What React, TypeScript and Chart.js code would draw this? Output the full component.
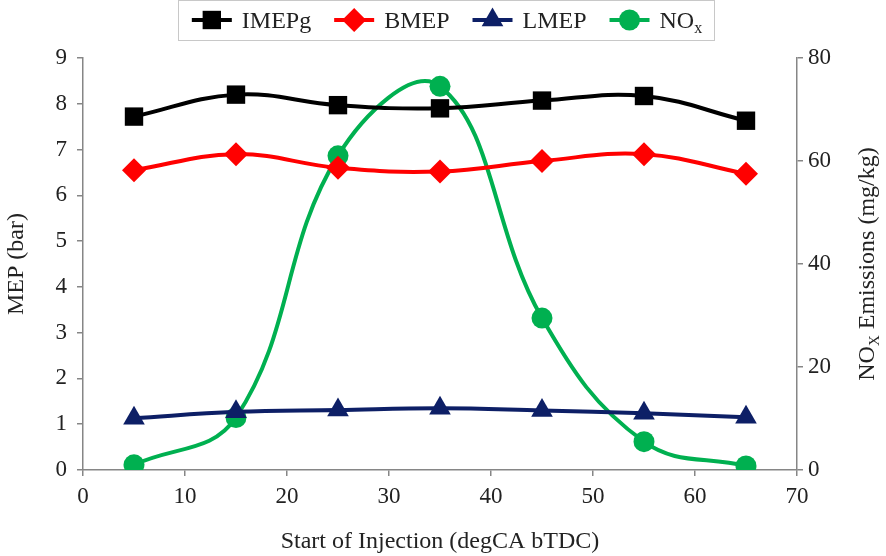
import React, { useEffect, useRef } from 'react';
import { Chart, registerables } from 'chart.js';

Chart.register(...registerables);

// ---- data ----
const injection = [5, 15, 25, 35, 45, 55, 65];
const imepg = [7.72, 8.2, 7.97, 7.9, 8.07, 8.17, 7.63];
const bmep = [6.55, 6.9, 6.6, 6.52, 6.75, 6.9, 6.47];
const lmep = [1.13, 1.27, 1.31, 1.35, 1.3, 1.24, 1.15];
const nox = [1.0, 10.2, 61.0, 74.5, 29.5, 5.5, 0.8];

const xTicks = [0, 10, 20, 30, 40, 50, 60, 70];
const mepTicks = [0, 1, 2, 3, 4, 5, 6, 7, 8, 9];
const noxTicks = [0, 20, 40, 60, 80];

const seriesLabels = ['IMEPg', 'BMEP', 'LMEP', 'NO'];
const seriesSubs = ['', '', '', 'x'];

const FONT = "'Liberation Serif', 'Times New Roman', serif";
const TEXT = '#222222';
const AXIS = '#868686';

function drawMarker(ctx: CanvasRenderingContext2D, style: string, r: number, x: number, y: number, color: string) {
  ctx.save();
  ctx.fillStyle = color;
  ctx.beginPath();
  if (style === 'rect') {
    const s = Math.SQRT1_2 * r;
    ctx.rect(x - s, y - s, 2 * s, 2 * s);
  } else if (style === 'rectRot') {
    ctx.moveTo(x, y - r);
    ctx.lineTo(x + r, y);
    ctx.lineTo(x, y + r);
    ctx.lineTo(x - r, y);
    ctx.closePath();
  } else if (style === 'triangle') {
    for (let i = 0; i < 3; i++) {
      const a = -Math.PI / 2 + (i * 2 * Math.PI) / 3;
      const px = x + Math.cos(a) * r;
      const py = y + Math.sin(a) * r;
      if (i === 0) ctx.moveTo(px, py);
      else ctx.lineTo(px, py);
    }
    ctx.closePath();
  } else {
    ctx.arc(x, y, r, 0, Math.PI * 2);
  }
  ctx.fill();
  ctx.restore();
}

const customLegend = {
  id: 'customLegend',
  afterDraw(chart: any) {
    const ctx: CanvasRenderingContext2D = chart.ctx;
    const ds = chart.data.datasets;
    const fontSize = 24;
    const subSize = 16;
    const lineLen = 40;
    const gapText = 10;
    const gapItem = 23;
    const padL = 14;
    const padR = 12;
    ctx.save();
    const widths: number[] = [];
    for (let i = 0; i < ds.length; i++) {
      ctx.font = `${fontSize}px ${FONT}`;
      let w = ctx.measureText(seriesLabels[i]).width;
      if (seriesSubs[i]) {
        ctx.font = `${subSize}px ${FONT}`;
        w += ctx.measureText(seriesSubs[i]).width;
      }
      widths.push(w);
    }
    let total = 0;
    widths.forEach((w, i) => {
      total += lineLen + gapText + w + (i < widths.length - 1 ? gapItem : 0);
    });
    const boxW = total + padL + padR;
    const cx = 446;
    const boxL = cx - boxW / 2;
    const boxT = 0.5;
    const boxH = 40;
    const cy = 20;
    ctx.strokeStyle = '#c8c8c8';
    ctx.lineWidth = 1;
    ctx.strokeRect(Math.round(boxL) + 0.5, boxT, Math.round(boxW), boxH);
    let x = boxL + padL;
    for (let i = 0; i < ds.length; i++) {
      const d = ds[i];
      ctx.strokeStyle = d.borderColor;
      ctx.lineWidth = 4;
      ctx.beginPath();
      ctx.moveTo(x, cy);
      ctx.lineTo(x + lineLen, cy);
      ctx.stroke();
      drawMarker(ctx, d.pointStyle, d.pointRadius, x + lineLen / 2, cy, d.pointBackgroundColor);
      x += lineLen + gapText;
      ctx.fillStyle = TEXT;
      ctx.textBaseline = 'alphabetic';
      ctx.textAlign = 'left';
      ctx.font = `${fontSize}px ${FONT}`;
      ctx.fillText(seriesLabels[i], x, cy + 8);
      let w = ctx.measureText(seriesLabels[i]).width;
      if (seriesSubs[i]) {
        ctx.font = `${subSize}px ${FONT}`;
        ctx.fillText(seriesSubs[i], x + w, cy + 13);
        w += ctx.measureText(seriesSubs[i]).width;
      }
      x += w + gapItem;
    }
    ctx.restore();
  },
};

const rightTitle = {
  id: 'rightTitle',
  afterDraw(chart: any) {
    const ctx: CanvasRenderingContext2D = chart.ctx;
    const area = chart.chartArea;
    const parts = [
      { t: 'NO', size: 24, dy: 0 },
      { t: 'X', size: 15, dy: 5 },
      { t: ' Emissions (mg/kg)', size: 24, dy: 0 },
    ];
    ctx.save();
    let total = 0;
    parts.forEach((p) => {
      ctx.font = `${p.size}px ${FONT}`;
      total += ctx.measureText(p.t).width;
    });
    ctx.translate(chart.width - 20, (area.top + area.bottom) / 2);
    ctx.rotate(-Math.PI / 2);
    ctx.fillStyle = TEXT;
    ctx.textBaseline = 'alphabetic';
    ctx.textAlign = 'left';
    let x = -total / 2;
    parts.forEach((p) => {
      ctx.font = `${p.size}px ${FONT}`;
      ctx.fillText(p.t, x, 8 + p.dy);
      x += ctx.measureText(p.t).width;
    });
    ctx.restore();
  },
};

function toPoints(vals: number[]) {
  return injection.map((x, i) => ({ x, y: vals[i] }));
}

export default function App() {
  const ref = useRef<HTMLCanvasElement | null>(null);
  useEffect(() => {
    document.body.style.margin = '0';
    const canvas = ref.current;
    if (!canvas) return;
    const tickFont = { family: FONT, size: 23 };
    const grid = {
      drawOnChartArea: false,
      drawTicks: true,
      tickLength: 6,
      color: AXIS,
      lineWidth: 1.5,
    };
    const border = { color: AXIS, width: 1.5 };
    const chart = new Chart(canvas, {
      type: 'line',
      data: {
        datasets: [
          {
            label: 'IMEPg',
            data: toPoints(imepg),
            yAxisID: 'y',
            borderColor: '#000000',
            backgroundColor: '#000000',
            pointBackgroundColor: '#000000',
            pointBorderWidth: 0,
            borderWidth: 4,
            pointStyle: 'rect',
            pointRadius: 13,
            tension: 0.4,
          },
          {
            label: 'BMEP',
            data: toPoints(bmep),
            yAxisID: 'y',
            borderColor: '#ff0000',
            backgroundColor: '#ff0000',
            pointBackgroundColor: '#ff0000',
            pointBorderWidth: 0,
            borderWidth: 4,
            pointStyle: 'rectRot',
            pointRadius: 12,
            tension: 0.4,
          },
          {
            label: 'LMEP',
            data: toPoints(lmep),
            yAxisID: 'y',
            borderColor: '#0d1f66',
            backgroundColor: '#0d1f66',
            pointBackgroundColor: '#0d1f66',
            pointBorderWidth: 0,
            borderWidth: 4,
            pointStyle: 'triangle',
            pointRadius: 12.5,
            tension: 0.4,
          },
          {
            label: 'NOx',
            data: toPoints(nox),
            yAxisID: 'y1',
            borderColor: '#00b050',
            backgroundColor: '#00b050',
            pointBackgroundColor: '#00b050',
            pointBorderWidth: 0,
            borderWidth: 4,
            pointStyle: 'circle',
            pointRadius: 10.5,
            tension: 0.4,
          },
        ],
      },
      options: {
        responsive: false,
        animation: false,
        layout: { padding: { top: 58, left: 0, right: 0, bottom: 0 } },
        plugins: {
          legend: { display: false },
          tooltip: { enabled: false },
        },
        scales: {
          x: {
            type: 'linear',
            min: 0,
            max: 70,
            afterBuildTicks: (s: any) => {
              s.ticks = xTicks.map((v) => ({ value: v }));
            },
            afterFit: (s: any) => {
              s.height = 86;
            },
            grid,
            border,
            ticks: { font: tickFont, color: TEXT, padding: 7, maxRotation: 0 },
            title: {
              display: true,
              text: 'Start of Injection (degCA bTDC)',
              font: { family: FONT, size: 24 },
              color: TEXT,
              padding: { top: 0, bottom: 0 },
            },
          },
          y: {
            type: 'linear',
            position: 'left',
            min: 0,
            max: 9,
            afterBuildTicks: (s: any) => {
              s.ticks = mepTicks.map((v) => ({ value: v }));
            },
            afterFit: (s: any) => {
              s.width = 83;
            },
            grid,
            border,
            ticks: { font: tickFont, color: TEXT, padding: 10 },
            title: {
              display: true,
              text: 'MEP (bar)',
              font: { family: FONT, size: 24 },
              color: TEXT,
              padding: { top: 2, bottom: 0 },
            },
          },
          y1: {
            type: 'linear',
            position: 'right',
            min: 0,
            max: 80,
            afterBuildTicks: (s: any) => {
              s.ticks = noxTicks.map((v) => ({ value: v }));
            },
            afterFit: (s: any) => {
              s.width = 89;
            },
            grid,
            border,
            ticks: { font: tickFont, color: TEXT, padding: 5 },
          },
        },
      },
      plugins: [customLegend, rightTitle],
    } as any);
    return () => chart.destroy();
  }, []);
  return (
    <div style={{ position: 'fixed', left: 0, top: 0, width: 886, height: 556, background: '#fff' }}>
      <canvas ref={ref} width={886} height={556} style={{ display: 'block', width: 886, height: 556 }} />
    </div>
  );
}
